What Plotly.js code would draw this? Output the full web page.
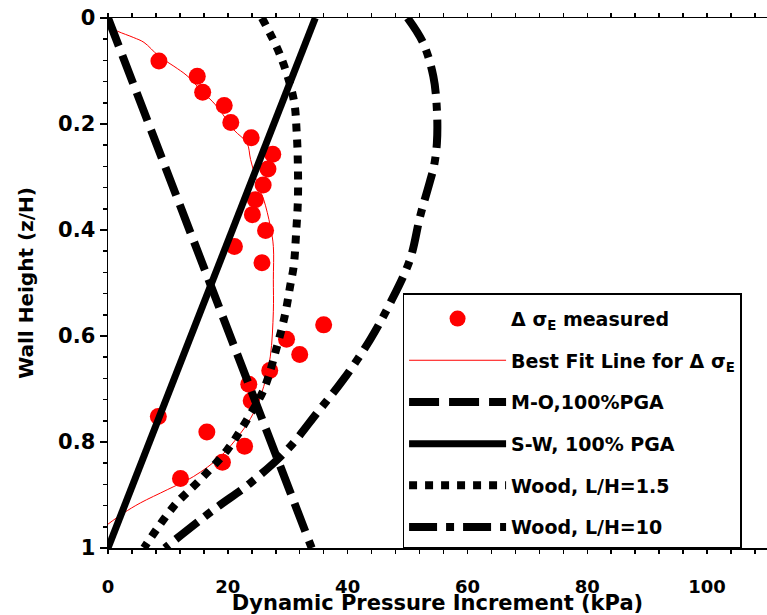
<!DOCTYPE html>
<html>
<head>
<meta charset="utf-8">
<script src="https://cdn.plot.ly/plotly-3.0.1.min.js"></script>
<style>html,body{margin:0;padding:0;background:#fff;}#chart{width:767px;height:615px;}</style>
</head>
<body>
<div id="chart"></div>
<script>
// Measured dynamic pressure increment (kPa) vs normalized wall height z/H
const measuredX = [8.5,14.9,15.8,19.4,20.5,23.9,27.5,26.7,25.9,24.6,24.1,26.3,21.1,25.7,36.0,29.8,32.0,27.0,23.5,23.9,8.4,16.5,22.8,19.1,12.1];
const measuredZ = [0.081,0.110,0.140,0.165,0.197,0.226,0.257,0.285,0.315,0.343,0.371,0.401,0.431,0.462,0.579,0.606,0.635,0.665,0.691,0.722,0.752,0.781,0.808,0.838,0.869];

const fitX = [0,1.6,4.3,6.0,8.5,11.0,13.2,15.4,18.2,21.0,23.2,23.8,25.1,26.0,27.1,27.6,27.6,27.6,27.1,26.0,24.3,22.1,18.8,14.3,9.9,5.4,2.6,0];
const fitZ = [0.016,0.025,0.037,0.046,0.072,0.091,0.109,0.135,0.167,0.211,0.236,0.267,0.318,0.343,0.393,0.431,0.494,0.554,0.638,0.695,0.745,0.784,0.827,0.865,0.890,0.915,0.934,0.955];

const moX = [0,34.0];
const moZ = [0,1];

const swX = [34.6,0];
const swZ = [0,1];

const wood15X = [25.7,28.8,31.0,31.5,31.7,31.7,31.4,31.0,30.4,29.6,28.2,26.0,23.2,19.9,15.4,11.0,6.0];
const wood15Z = [0,0.072,0.154,0.217,0.28,0.343,0.406,0.468,0.506,0.557,0.62,0.701,0.758,0.815,0.871,0.921,1];

const wood10X = [50.0,52.6,54.3,54.9,54.9,54.4,53.75,52.1,50.4,47.1,43.75,39.3,34.9,29.9,23.8,17.6,9.5];
const wood10Z = [0,0.047,0.11,0.173,0.236,0.28,0.308,0.374,0.456,0.538,0.607,0.682,0.745,0.815,0.877,0.928,1];

const names = ['\u0394 \u03c3<sub>E</sub> measured','Best Fit Line for \u0394 \u03c3<sub>E</sub>','M-O,100%PGA','S-W, 100% PGA','Wood, L/H=1.5','Wood, L/H=10'];

const FONT = 'DejaVu Sans, Liberation Sans, sans-serif';

const traces = [
  {x: measuredX, y: measuredZ, name: names[0], mode: 'markers', legendgroup: 'a',
   marker: {color: '#ff0000', size: 17}},
  {x: fitX, y: fitZ, name: names[1], mode: 'lines', legendgroup: 'b',
   line: {color: '#ff0000', width: 1, shape: 'spline'}},
  {x: moX, y: moZ, name: names[2], mode: 'lines', legendgroup: 'c',
   line: {color: '#000', width: 8, dash: '30px,10px'}},
  {x: swX, y: swZ, name: names[3], mode: 'lines', legendgroup: 'd',
   line: {color: '#000', width: 7}},
  {x: wood15X, y: wood15Z, name: names[4], mode: 'lines', legendgroup: 'e',
   line: {color: '#000', width: 8, dash: '8px,8px', shape: 'spline'}},
  {x: wood10X, y: wood10Z, name: names[5], mode: 'lines', legendgroup: 'f',
   line: {color: '#000', width: 8, dash: '28px,9px,8px,9px', shape: 'spline'}}
];

const layout = {
  width: 767, height: 615,
  margin: {l: 108, r: 0, t: 18, b: 67},
  paper_bgcolor: '#fff', plot_bgcolor: '#fff',
  font: {family: FONT, color: '#000'},
  showlegend: true,
  legend: {
    x: 0.447, y: 0, xanchor: 'left', yanchor: 'bottom',
    bgcolor: '#fff', bordercolor: '#000', borderwidth: 1.5,
    font: {family: FONT, size: 19, weight: 'bold', color: '#000'},
    itemwidth: 97, tracegroupgap: 14,
    title: {text: ' ', font: {family: FONT, size: 4}}
  },
  xaxis: {
    range: [0, 110], showgrid: false, zeroline: false,
    showline: true, linecolor: '#000', linewidth: 1.5, mirror: 'allticks',
    ticks: 'outside', ticklen: 4, tickwidth: 1.5, tickcolor: '#000',
    tickvals: [0,20,40,60,80,100],
    minor: {dtick: 4, ticks: 'outside', ticklen: 4, tickwidth: 1.5, tickcolor: '#000'},
    tickfont: {family: FONT, size: 18, weight: 'bold'},
    ticklabelstandoff: 18,
    title: {text: 'Dynamic Pressure Increment (kPa)', font: {family: FONT, size: 21, weight: 'bold'}, standoff: 0}
  },
  yaxis: {
    range: [1, 0], showgrid: false, zeroline: false,
    showline: true, linecolor: '#000', linewidth: 1.5,
    ticks: 'outside', ticklen: 7, tickwidth: 1.5, tickcolor: '#000',
    tickvals: [0,0.2,0.4,0.6,0.8,1], ticktext: ['0','0.2','0.4','0.6','0.8','1'],
    minor: {dtick: 0.04, ticks: 'outside', ticklen: 4, tickwidth: 1.5, tickcolor: '#000'},
    tickfont: {family: FONT, size: 21, weight: 'bold'},
    title: {text: 'Wall Height (z/H)', font: {family: FONT, size: 20, weight: 'bold'}, standoff: 19}
  }
};

Plotly.newPlot('chart', traces, layout, {displayModeBar: false, staticPlot: true});
</script>
</body>
</html>
